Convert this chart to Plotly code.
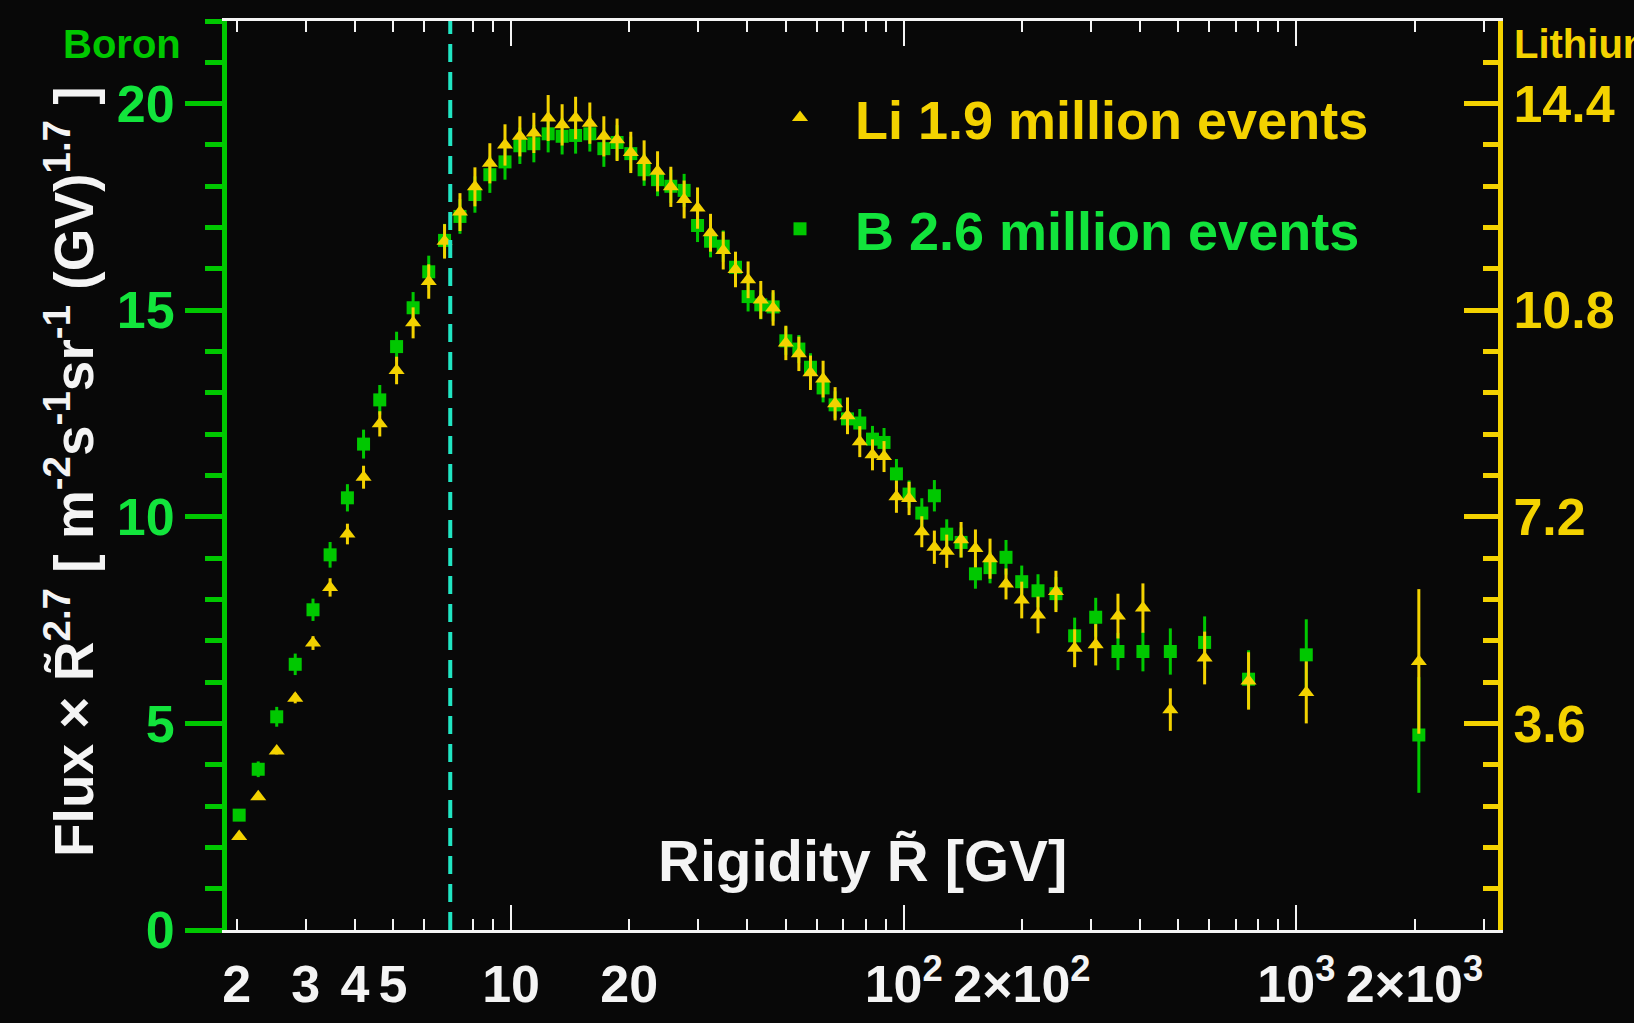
import plotly.graph_objects as go

# Rigidity bin centres [GV]
rigidity = [2.03, 2.27, 2.53, 2.82, 3.13, 3.46, 3.83, 4.21, 4.63, 5.11,
            5.63, 6.17, 6.77, 7.41, 8.09, 8.83, 9.65, 10.53, 11.43, 12.43,
            13.49, 14.60, 15.87, 17.23, 18.62, 20.18, 21.82, 23.61, 25.52, 27.59,
            29.85, 32.21, 34.70, 37.29, 40.15, 43.25, 46.49, 50.10, 54.07, 57.88,
            62.33, 66.87, 71.93, 77.29, 83.26, 89.10, 95.83, 103.2, 111.2, 119.7,
            128.7, 140.0, 152.3, 165.9, 182.2, 199.8, 219.8, 244.2, 272.5, 308.3,
            351.3, 406.7, 477.6, 584.0, 755.6, 1060.0, 2051.0]

# Boron flux x R^2.7  (left scale)
boron_flux = [2.78, 3.89, 5.16, 6.43, 7.75, 9.08, 10.46, 11.76, 12.83, 14.12,
              15.06, 15.93, 16.69, 17.27, 17.80, 18.28, 18.59, 18.98, 19.03, 19.27,
              19.21, 19.23, 19.27, 18.91, 19.06, 18.79, 18.40, 18.16, 18.00, 17.90,
              17.05, 16.67, 16.55, 16.04, 15.33, 15.13, 15.08, 14.26, 14.06, 13.62,
              13.12, 12.71, 12.37, 12.27, 11.88, 11.80, 11.04, 10.55, 10.09, 10.51,
              9.58, 9.38, 8.62, 8.77, 9.02, 8.43, 8.21, 8.14, 7.12, 7.57,
              6.74, 6.74, 6.74, 6.96, 6.07, 6.66, 4.72]
boron_err = [0.10, 0.19, 0.24, 0.26, 0.27, 0.31, 0.33, 0.35, 0.36, 0.36,
             0.38, 0.39, 0.40, 0.42, 0.44, 0.44, 0.43, 0.44, 0.45, 0.45,
             0.44, 0.44, 0.43, 0.44, 0.42, 0.41, 0.39, 0.40, 0.40, 0.40,
             0.40, 0.39, 0.38, 0.37, 0.36, 0.35, 0.35, 0.34, 0.34, 0.34,
             0.35, 0.33, 0.32, 0.34, 0.32, 0.35, 0.36, 0.33, 0.36, 0.38,
             0.36, 0.36, 0.36, 0.38, 0.42, 0.39, 0.40, 0.40, 0.44, 0.47,
             0.45, 0.48, 0.56, 0.63, 0.70, 0.86, 1.40]

# Lithium flux x R^2.7  (right scale)
lithium_flux = [1.63, 2.32, 3.12, 4.04, 5.00, 5.97, 6.90, 7.89, 8.82, 9.75,
                10.58, 11.30, 12.00, 12.51, 12.95, 13.36, 13.68, 13.83, 13.89, 14.15,
                14.03, 14.15, 14.06, 13.83, 13.77, 13.55, 13.41, 13.22, 12.95, 12.73,
                12.58, 12.15, 11.84, 11.51, 11.33, 10.98, 10.84, 10.23, 10.04, 9.71,
                9.60, 9.17, 8.96, 8.51, 8.28, 8.25, 7.55, 7.52, 6.94, 6.67,
                6.60, 6.80, 6.65, 6.47, 6.03, 5.75, 5.49, 5.90, 4.91, 4.97,
                5.47, 5.61, 3.84, 4.74, 4.34, 4.14, 4.68]
lithium_err = [0.04, 0.05, 0.06, 0.09, 0.12, 0.16, 0.18, 0.20, 0.22, 0.24,
               0.27, 0.30, 0.30, 0.33, 0.34, 0.35, 0.36, 0.35, 0.35, 0.40,
               0.36, 0.37, 0.36, 0.35, 0.37, 0.36, 0.35, 0.35, 0.35, 0.33,
               0.36, 0.33, 0.33, 0.31, 0.32, 0.33, 0.31, 0.30, 0.30, 0.30,
               0.32, 0.29, 0.32, 0.27, 0.27, 0.27, 0.28, 0.29, 0.27, 0.29,
               0.29, 0.31, 0.33, 0.35, 0.27, 0.32, 0.32, 0.36, 0.33, 0.36,
               0.39, 0.43, 0.37, 0.46, 0.50, 0.54, 1.26]

x_tickvals = [2, 3, 4, 5, 10, 20, 100, 200, 1000, 2000]
x_ticktext = ["2", "3", "4", "5", "10", "20", "10<sup>2</sup>", "2×10<sup>2</sup>",
              "10<sup>3</sup>", "2×10<sup>3</sup>"]
x_minor_vals = [6, 7, 8, 9, 30, 40, 50, 60, 70, 80, 90,
                300, 400, 500, 600, 700, 800, 900, 3000]
x_decades = [10, 100, 1000]
boron_tickvals = [0, 5, 10, 15, 20]
lithium_tickvals = [3.6, 7.2, 10.8, 14.4]
boron_range = [0, 22]
lithium_range = [0, 22 * 0.72]
break_rigidity = 7

FONT = "Liberation Sans, Arial, Helvetica, sans-serif"
BG = "#080808"
WHITE = "#f4f4f4"
GREEN = "#00c800"
GREEN_TEXT = "#12e43c"
YELLOW = "#f3d200"
CYAN = "#20e6c3"

W, H = 1634, 1023
L, R, T, B = 227, 136, 21, 93
PW, PH = W - L - R, H - T - B


def px(x):
    return (x - L) / PW


def py(y):
    return (H - B - y) / PH


fig = go.Figure()

fig.add_trace(go.Scatter(
    x=rigidity, y=boron_flux, mode="markers",
    name=f"<span style='color:{GREEN_TEXT}'>B 2.6 million events</span>",
    legendgroup="b", legendrank=2,
    marker=dict(symbol="square", size=13, color=GREEN, line=dict(width=0)),
    error_y=dict(type="data", array=boron_err, color=GREEN, thickness=3, width=0),
))
fig.add_trace(go.Scatter(
    x=rigidity, y=lithium_flux, mode="markers", yaxis="y2",
    name=f"<span style='color:{YELLOW}'>Li 1.9 million events</span>",
    legendgroup="li", legendrank=1,
    marker=dict(symbol="triangle-up", size=14, color=YELLOW, line=dict(width=0)),
    error_y=dict(type="data", array=lithium_err, color=YELLOW, thickness=3, width=0),
))
# carrier for the decade tick axis
fig.add_trace(go.Scatter(x=[], y=[], xaxis="x2", showlegend=False, hoverinfo="skip"))

xrange_log = [0.2765, 3.5136]

fig.update_layout(
    width=W, height=H,
    margin=dict(l=L, r=R, t=T, b=B, autoexpand=False),
    paper_bgcolor=BG, plot_bgcolor=BG,
    font=dict(family=FONT, color=WHITE, size=52, weight="bold"),
    xaxis=dict(
        type="log", range=xrange_log, showgrid=False, zeroline=False,
        showline=True, linecolor=WHITE, linewidth=3, mirror="ticks",
        ticks="inside", ticklen=11, tickwidth=2, tickcolor=WHITE,
        tickmode="array", tickvals=x_tickvals, ticktext=x_ticktext,
        ticklabelstandoff=7,
        tickfont=dict(family=FONT, size=52, color=WHITE, weight="bold"),
        minor=dict(tickmode="array", tickvals=x_minor_vals, ticks="inside",
                   ticklen=11, tickwidth=2, tickcolor=WHITE, showgrid=False),
    ),
    xaxis2=dict(
        type="log", range=xrange_log, overlaying="x", showgrid=False,
        zeroline=False, showline=False, mirror="ticks",
        ticks="inside", ticklen=25, tickwidth=2, tickcolor=WHITE,
        tickmode="array", tickvals=x_decades, showticklabels=False,
    ),
    yaxis=dict(
        range=boron_range, showgrid=False, zeroline=False,
        showline=True, linecolor=GREEN, linewidth=5,
        ticks="outside", ticklen=37, tickwidth=5, tickcolor=GREEN,
        tickmode="array", tickvals=boron_tickvals,
        tickfont=dict(family=FONT, size=52, color=GREEN_TEXT, weight="bold"),
        minor=dict(tickmode="linear", tick0=0, dtick=1, ticks="outside",
                   ticklen=17, tickwidth=5, tickcolor=GREEN, showgrid=False),
    ),
    yaxis2=dict(
        range=lithium_range, overlaying="y", side="right", showgrid=False,
        zeroline=False, showline=True, linecolor=YELLOW, linewidth=5,
        ticks="inside", ticklen=34, tickwidth=5, tickcolor=YELLOW,
        tickmode="array", tickvals=lithium_tickvals,
        tickfont=dict(family=FONT, size=52, color=YELLOW, weight="bold"),
        minor=dict(tickmode="linear", tick0=0, dtick=0.72, ticks="inside",
                   ticklen=15, tickwidth=5, tickcolor=YELLOW, showgrid=False),
    ),
    legend=dict(
        x=px(745), y=py(76), xanchor="left", yanchor="top",
        bgcolor="rgba(0,0,0,0)", borderwidth=0,
        font=dict(family=FONT, size=54, weight="bold"),
        itemwidth=100, tracegroupgap=38, traceorder="grouped",
    ),
    showlegend=True,
)

# spectral-break marker
fig.add_shape(type="line", xref="x", yref="paper",
              x0=break_rigidity, x1=break_rigidity, y0=0, y1=1,
              line=dict(color=CYAN, width=4, dash="18px,10px"))

fig.add_annotation(text="Boron", xref="paper", yref="paper",
                   x=px(122), y=py(44), xanchor="center", yanchor="middle",
                   showarrow=False,
                   font=dict(family=FONT, size=40, color=GREEN, weight="bold"))
fig.add_annotation(text="Lithium", xref="paper", yref="paper",
                   x=px(1512), y=py(44), xanchor="left", yanchor="middle",
                   showarrow=False,
                   font=dict(family=FONT, size=40, color=YELLOW, weight="bold"))
fig.add_annotation(
    text="Flux × R\u0303<sup>2.7</sup> [ m<sup>-2</sup>s<sup>-1</sup>sr<sup>-1</sup> (GV)<sup>1.7</sup> ]",
    xref="paper", yref="paper", x=px(70), y=py(472),
    xanchor="center", yanchor="middle", textangle=-90, showarrow=False,
    font=dict(family=FONT, size=55, color=WHITE, weight="bold"))
fig.add_annotation(
    text="Rigidity R\u0303 [GV]",
    xref="paper", yref="paper", x=px(828 / 0.9596), y=py(860),
    xanchor="center", yanchor="middle", showarrow=False,
    font=dict(family=FONT, size=58, color=WHITE, weight="bold"))

fig.write_html("out.html")
